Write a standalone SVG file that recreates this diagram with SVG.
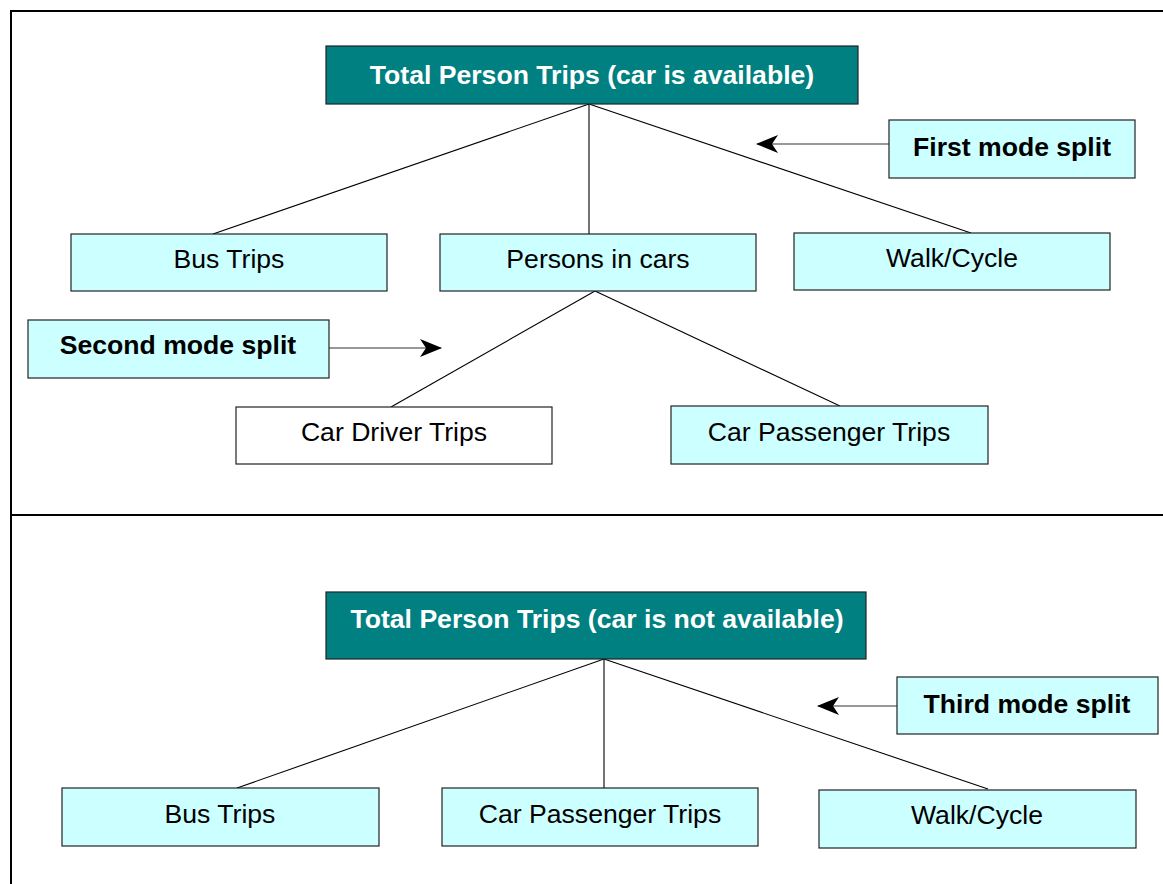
<svg xmlns="http://www.w3.org/2000/svg" width="1163" height="884" viewBox="0 0 1163 884">
  <style>
    .frame { fill: none; stroke: #000; stroke-width: 2; }
    .box { fill: #ccffff; stroke: #222; stroke-width: 1.2; }
    .box-white { fill: #ffffff; stroke: #222; stroke-width: 1.2; }
    .head { fill: #008080; stroke: #222; stroke-width: 1.2; }
    .lbl { font-family: "Liberation Sans", Arial, sans-serif; font-size: 26.6px; fill: #000; text-anchor: middle; }
    .bold { font-weight: bold; }
    .white { fill: #ffffff; }
    .link { stroke: #000; stroke-width: 1.1; fill: none; }
    .pointer { stroke: #333; stroke-width: 1.1; fill: none; marker-end: url(#arrow); }
  </style>
  <defs>
    <marker id="arrow" viewBox="0 0 22 18" refX="21" refY="9" markerWidth="22" markerHeight="18" markerUnits="userSpaceOnUse" orient="auto">
      <path d="M0,0 L22,9 L0,18 L6,9 Z" fill="#000"/>
    </marker>
  </defs>

  <rect width="1163" height="884" fill="#ffffff"/>

  <!-- outer frame and section divider -->
  <g id="frame">
    <path class="frame" d="M1170,11 H11 V890"/>
    <path class="frame" d="M11,515 H1170"/>
  </g>

  <!-- connectors -->
  <g id="connectors">
    <line class="link" x1="589" y1="104" x2="213" y2="234"/>
    <line class="link" x1="589" y1="104" x2="589" y2="234"/>
    <line class="link" x1="589" y1="104" x2="971" y2="233"/>
    <line class="link" x1="595" y1="291" x2="391" y2="407"/>
    <line class="link" x1="595" y1="291" x2="840" y2="406"/>
    <line class="link" x1="604" y1="659" x2="237" y2="788"/>
    <line class="link" x1="604" y1="659" x2="604" y2="788"/>
    <line class="link" x1="604" y1="659" x2="988" y2="789"/>
    <line class="pointer" x1="889" y1="144" x2="757" y2="144"/>
    <line class="pointer" x1="329" y1="348" x2="441" y2="348"/>
    <line class="pointer" x1="897" y1="706" x2="818" y2="706"/>
  </g>

  <!-- upper tree: car is available -->
  <g id="total-available">
    <rect class="head" x="326" y="46" width="532" height="58"/>
    <text class="lbl bold white" x="592" y="84">Total Person Trips (car is available)</text>
  </g>
  <g id="first-split">
    <rect class="box" x="889" y="120" width="246" height="58"/>
    <text class="lbl bold" x="1012" y="156">First mode split</text>
  </g>
  <g id="bus-trips-1">
    <rect class="box" x="71" y="234" width="316" height="57"/>
    <text class="lbl" x="229" y="268">Bus Trips</text>
  </g>
  <g id="persons-in-cars">
    <rect class="box" x="440" y="234" width="316" height="57"/>
    <text class="lbl" x="598" y="268">Persons in cars</text>
  </g>
  <g id="walk-cycle-1">
    <rect class="box" x="794" y="233" width="316" height="57"/>
    <text class="lbl" x="952" y="267">Walk/Cycle</text>
  </g>
  <g id="second-split">
    <rect class="box" x="28" y="320" width="301" height="58"/>
    <text class="lbl bold" x="178" y="354">Second mode split</text>
  </g>
  <g id="car-driver">
    <rect class="box-white" x="236" y="407" width="316" height="57"/>
    <text class="lbl" x="394" y="441">Car Driver Trips</text>
  </g>
  <g id="car-passenger-1">
    <rect class="box" x="671" y="406" width="317" height="58"/>
    <text class="lbl" x="829" y="441">Car Passenger Trips</text>
  </g>

  <!-- lower tree: car is not available -->
  <g id="total-not-available">
    <rect class="head" x="326" y="592" width="540" height="67"/>
    <text class="lbl bold white" x="597" y="628">Total Person Trips (car is not available)</text>
  </g>
  <g id="third-split">
    <rect class="box" x="897" y="677" width="261" height="57"/>
    <text class="lbl bold" x="1027" y="713">Third mode split</text>
  </g>
  <g id="bus-trips-2">
    <rect class="box" x="62" y="788" width="317" height="58"/>
    <text class="lbl" x="220" y="823">Bus Trips</text>
  </g>
  <g id="car-passenger-2">
    <rect class="box" x="442" y="788" width="316" height="58"/>
    <text class="lbl" x="600" y="823">Car Passenger Trips</text>
  </g>
  <g id="walk-cycle-2">
    <rect class="box" x="819" y="790" width="317" height="58"/>
    <text class="lbl" x="977" y="824">Walk/Cycle</text>
  </g>
</svg>
